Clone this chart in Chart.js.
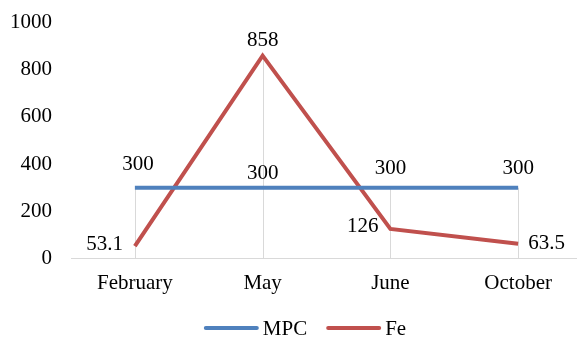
<!DOCTYPE html>
<html>
<head>
<meta charset="utf-8">
<script src="https://cdn.jsdelivr.net/npm/chart.js@4/dist/chart.umd.min.js"></script>
<style>
  html, body { margin: 0; padding: 0; background: #fff; overflow: hidden; }
  #wrap { width: 577px; height: 340px; overflow: hidden; position: relative; }
  #box { width: 610px; height: 340px; position: absolute; left: 0; top: 0; }
</style>
</head>
<body>
<div id="wrap"><div id="box"><canvas id="c"></canvas></div></div>
<script>
const months = ['February', 'May', 'June', 'October'];
const mpcValues = [300, 300, 300, 300];
const feValues = [53.1, 858, 126, 63.5];
const yTicks = [0, 200, 400, 600, 800, 1000];

const FONT = '"Liberation Serif", "Times New Roman", serif';
const FONT_SIZE = 21;

// Vertical drop lines from the highest point of each category down to the axis
const dropLines = {
  id: 'dropLines',
  beforeDatasetsDraw(chart) {
    const { ctx, scales: { x, y } } = chart;
    ctx.save();
    ctx.strokeStyle = '#d9d9d9';
    ctx.lineWidth = 1;
    months.forEach((m, i) => {
      const top = Math.max(...chart.data.datasets.map(d => d.data[i]));
      const px = Math.round(x.getPixelForValue(i)) + 0.5;
      ctx.beginPath();
      ctx.moveTo(px, y.getPixelForValue(top));
      ctx.lineTo(px, y.getPixelForValue(0));
      ctx.stroke();
    });
    ctx.restore();
  }
};

// Value labels beside each point
const valueLabels = {
  id: 'valueLabels',
  afterDatasetsDraw(chart) {
    const { ctx } = chart;
    ctx.save();
    ctx.font = FONT_SIZE + 'px ' + FONT;
    ctx.fillStyle = '#000';
    chart.data.datasets.forEach((ds, di) => {
      const meta = chart.getDatasetMeta(di);
      meta.data.forEach((pt, i) => {
        const place = ds.labelPlace[i];
        const txt = String(ds.data[i]);
        let tx = pt.x, ty = pt.y;
        if (place === 'above') { ctx.textAlign = 'center'; ctx.textBaseline = 'middle'; ty -= ds.labelGap[i]; }
        else if (place === 'left') { ctx.textAlign = 'right'; ctx.textBaseline = 'middle'; tx -= 12; ty -= 2; }
        else { ctx.textAlign = 'left'; ctx.textBaseline = 'middle'; tx += 10; }
        ctx.fillText(txt, tx + (ds.labelShift ? ds.labelShift[i] : 0), ty);
      });
    });
    ctx.restore();
  }
};

// Legend row below the chart: short line swatch followed by the series name
const lineLegend = {
  id: 'lineLegend',
  afterDraw(chart) {
    const { ctx } = chart;
    const swatch = 55, textGap = 4, itemGap = 19, cy = 328, centerX = 305;
    ctx.save();
    ctx.font = FONT_SIZE + 'px ' + FONT;
    const items = chart.data.datasets.map(d => ({ d, w: swatch + textGap + ctx.measureText(d.label).width }));
    const total = items.reduce((s, it) => s + it.w, 0) + itemGap * (items.length - 1);
    let x = centerX - total / 2;
    items.forEach(({ d, w }) => {
      ctx.strokeStyle = d.borderColor;
      ctx.lineWidth = 4;
      ctx.lineCap = 'round';
      ctx.beginPath();
      ctx.moveTo(x + 2, cy);
      ctx.lineTo(x + swatch - 2, cy);
      ctx.stroke();
      ctx.fillStyle = '#000';
      ctx.textAlign = 'left';
      ctx.textBaseline = 'middle';
      ctx.fillText(d.label, x + swatch + textGap, cy + 1);
      x += w + itemGap;
    });
    ctx.restore();
  }
};

new Chart(document.getElementById('c'), {
  type: 'line',
  data: {
    labels: months,
    datasets: [
      {
        label: 'MPC',
        data: mpcValues,
        borderColor: '#4f81bd',
        backgroundColor: '#4f81bd',
        borderWidth: 4,
        pointRadius: 0,
        tension: 0,
        labelPlace: ['above', 'above', 'above', 'above'],
        labelGap: [23, 14, 19, 19],
        labelShift: [3, 0, 0, 0]
      },
      {
        label: 'Fe',
        data: feValues,
        borderColor: '#c0504d',
        backgroundColor: '#c0504d',
        borderWidth: 4,
        pointRadius: 0,
        tension: 0,
        labelPlace: ['left', 'above', 'left', 'right'],
        labelGap: [0, 15, 0, 0]
      }
    ]
  },
  options: {
    responsive: true,
    maintainAspectRatio: false,
    animation: false,
    events: [],
    layout: { autoPadding: false, padding: { left: -9, top: 22, right: 28, bottom: 32 } },
    scales: {
      x: {
        offset: true,
        grid: { display: false, drawTicks: false },
        border: { display: true, color: '#d9d9d9', width: 1 },
        ticks: { color: '#000', font: { family: FONT, size: FONT_SIZE }, padding: 12 }
      },
      y: {
        min: 0,
        max: 1000,
        afterBuildTicks(axis) { axis.ticks = yTicks.map(v => ({ value: v })); },
        afterFit(axis) { axis.paddingTop = 0; },
        grid: { display: false, drawTicks: false },
        border: { display: false },
        ticks: {
          color: '#000',
          font: { family: FONT, size: FONT_SIZE },
          padding: 19,
          callback: v => String(v)
        }
      }
    },
    plugins: {
      legend: { display: false },
      tooltip: { enabled: false }
    }
  },
  plugins: [dropLines, valueLabels, lineLegend]
});
</script>
</body>
</html>
